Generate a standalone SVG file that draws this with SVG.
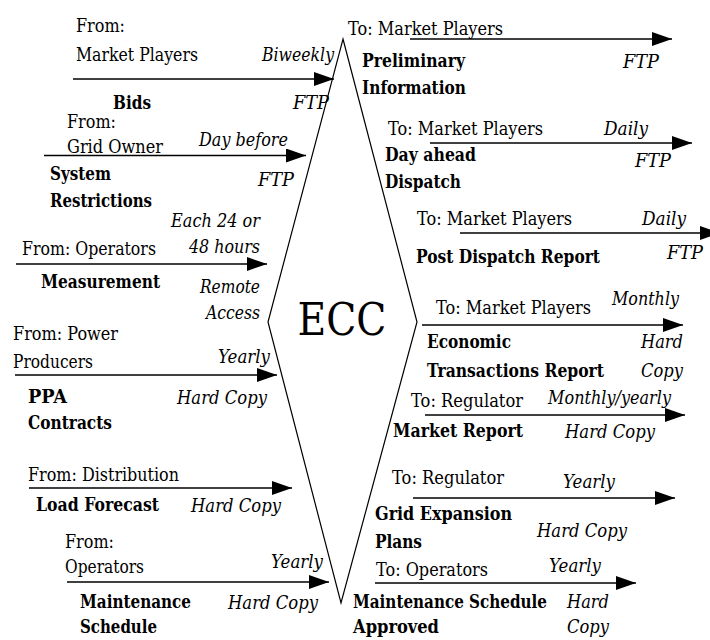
<svg xmlns="http://www.w3.org/2000/svg" width="710" height="640" viewBox="0 0 710 640">
<style>
text{font-family:"DejaVu Serif",serif;font-size:18px;fill:#000}
.b{font-weight:bold}
.i{font-style:italic}
.e{text-anchor:end}
.big{font-size:44px;text-anchor:middle}
.ln{stroke:#000;stroke-width:1.4;fill:none;marker-end:url(#ah)}
</style>
<defs>
<marker id="ah" markerUnits="userSpaceOnUse" markerWidth="21" markerHeight="15" refX="20" refY="7" orient="auto" viewBox="0 0 21 15">
<path d="M0,0 L20,7 L0,14 z" fill="#000"/>
</marker>
</defs>
<rect width="710" height="640" fill="#fff"/>
<g id="ecc">
<polygon points="343,39 417,322 341,603 268,322" fill="none" stroke="#000" stroke-width="1.2"/>
<text class="big" x="342" y="335" textLength="89" lengthAdjust="spacingAndGlyphs">ECC</text>
</g>
<g id="connectors">
<line class="ln" x1="73" y1="79" x2="334" y2="79"/>
<line class="ln" x1="44" y1="155.5" x2="306" y2="155.5"/>
<line class="ln" x1="16" y1="264" x2="267" y2="264"/>
<line class="ln" x1="15" y1="375" x2="277" y2="375"/>
<line class="ln" x1="29" y1="488" x2="292" y2="488"/>
<line class="ln" x1="67" y1="582" x2="329" y2="582"/>
<line class="ln" x1="410" y1="39" x2="672" y2="39"/>
<line class="ln" x1="430" y1="143" x2="692" y2="143"/>
<line class="ln" x1="460" y1="233" x2="720" y2="233"/>
<line class="ln" x1="422" y1="325" x2="683" y2="325"/>
<line class="ln" x1="425" y1="415" x2="685" y2="415"/>
<line class="ln" x1="413" y1="498" x2="675" y2="498"/>
<line class="ln" x1="375" y1="583" x2="636" y2="583"/>
</g>
<g id="bids">
<text x="76" y="32" textLength="49" lengthAdjust="spacingAndGlyphs">From:</text>
<text x="76" y="61" textLength="122" lengthAdjust="spacingAndGlyphs">Market Players</text>
<text class="i e" x="334" y="61" textLength="72" lengthAdjust="spacingAndGlyphs">Biweekly</text>
<text class="b" x="113" y="109" textLength="38" lengthAdjust="spacingAndGlyphs">Bids</text>
<text class="i" x="293" y="109" textLength="36" lengthAdjust="spacingAndGlyphs">FTP</text>
</g>
<g id="system-restrictions">
<text x="67" y="128" textLength="49" lengthAdjust="spacingAndGlyphs">From:</text>
<text x="67" y="153" textLength="96" lengthAdjust="spacingAndGlyphs">Grid Owner</text>
<text class="i" x="199" y="146" textLength="89" lengthAdjust="spacingAndGlyphs">Day before</text>
<text class="b" x="50" y="180" textLength="61" lengthAdjust="spacingAndGlyphs">System</text>
<text class="b" x="50" y="207" textLength="102" lengthAdjust="spacingAndGlyphs">Restrictions</text>
<text class="i" x="258" y="186" textLength="36" lengthAdjust="spacingAndGlyphs">FTP</text>
</g>
<g id="measurement">
<text class="i e" x="260" y="227" textLength="89" lengthAdjust="spacingAndGlyphs">Each 24 or</text>
<text class="i e" x="260" y="253" textLength="71" lengthAdjust="spacingAndGlyphs">48 hours</text>
<text x="22" y="255" textLength="134" lengthAdjust="spacingAndGlyphs">From: Operators</text>
<text class="b" x="41" y="288" textLength="119" lengthAdjust="spacingAndGlyphs">Measurement</text>
<text class="i e" x="260" y="293" textLength="60" lengthAdjust="spacingAndGlyphs">Remote</text>
<text class="i e" x="260" y="319" textLength="54" lengthAdjust="spacingAndGlyphs">Access</text>
</g>
<g id="ppa-contracts">
<text x="13" y="340" textLength="105" lengthAdjust="spacingAndGlyphs">From: Power</text>
<text x="13" y="368" textLength="80" lengthAdjust="spacingAndGlyphs">Producers</text>
<text class="i e" x="270" y="363" textLength="52" lengthAdjust="spacingAndGlyphs">Yearly</text>
<text class="b" x="28" y="403" textLength="39" lengthAdjust="spacingAndGlyphs">PPA</text>
<text class="b" x="28" y="429" textLength="84" lengthAdjust="spacingAndGlyphs">Contracts</text>
<text class="i" x="177" y="404" textLength="90" lengthAdjust="spacingAndGlyphs">Hard Copy</text>
</g>
<g id="load-forecast">
<text x="28" y="481" textLength="151" lengthAdjust="spacingAndGlyphs">From: Distribution</text>
<text class="b" x="36" y="511" textLength="123" lengthAdjust="spacingAndGlyphs">Load Forecast</text>
<text class="i" x="191" y="512" textLength="90" lengthAdjust="spacingAndGlyphs">Hard Copy</text>
</g>
<g id="maintenance-schedule">
<text x="65" y="548" textLength="49" lengthAdjust="spacingAndGlyphs">From:</text>
<text x="65" y="573" textLength="79" lengthAdjust="spacingAndGlyphs">Operators</text>
<text class="i e" x="323" y="568" textLength="52" lengthAdjust="spacingAndGlyphs">Yearly</text>
<text class="b" x="80" y="608" textLength="111" lengthAdjust="spacingAndGlyphs">Maintenance</text>
<text class="b" x="80" y="633" textLength="77" lengthAdjust="spacingAndGlyphs">Schedule</text>
<text class="i" x="228" y="609" textLength="90" lengthAdjust="spacingAndGlyphs">Hard Copy</text>
</g>
<g id="preliminary-information">
<text x="348" y="35" textLength="155" lengthAdjust="spacingAndGlyphs">To: Market Players</text>
<text class="b" x="362" y="67" textLength="103" lengthAdjust="spacingAndGlyphs">Preliminary</text>
<text class="b" x="362" y="94" textLength="104" lengthAdjust="spacingAndGlyphs">Information</text>
<text class="i" x="623" y="68" textLength="36" lengthAdjust="spacingAndGlyphs">FTP</text>
</g>
<g id="day-ahead-dispatch">
<text x="388" y="135" textLength="155" lengthAdjust="spacingAndGlyphs">To: Market Players</text>
<text class="i" x="604" y="135" textLength="44" lengthAdjust="spacingAndGlyphs">Daily</text>
<text class="b" x="385" y="161" textLength="91" lengthAdjust="spacingAndGlyphs">Day ahead</text>
<text class="b" x="385" y="188" textLength="76" lengthAdjust="spacingAndGlyphs">Dispatch</text>
<text class="i" x="635" y="167" textLength="36" lengthAdjust="spacingAndGlyphs">FTP</text>
</g>
<g id="post-dispatch-report">
<text x="417" y="225" textLength="155" lengthAdjust="spacingAndGlyphs">To: Market Players</text>
<text class="i" x="642" y="225" textLength="44" lengthAdjust="spacingAndGlyphs">Daily</text>
<text class="b" x="416" y="263" textLength="184" lengthAdjust="spacingAndGlyphs">Post Dispatch Report</text>
<text class="i" x="667" y="259" textLength="36" lengthAdjust="spacingAndGlyphs">FTP</text>
</g>
<g id="economic-transactions-report">
<text x="436" y="314" textLength="155" lengthAdjust="spacingAndGlyphs">To: Market Players</text>
<text class="i" x="612" y="305" textLength="67" lengthAdjust="spacingAndGlyphs">Monthly</text>
<text class="b" x="427" y="348" textLength="84" lengthAdjust="spacingAndGlyphs">Economic</text>
<text class="b" x="427" y="377" textLength="177" lengthAdjust="spacingAndGlyphs">Transactions Report</text>
<text class="i e" x="683" y="348" textLength="42" lengthAdjust="spacingAndGlyphs">Hard</text>
<text class="i e" x="683" y="377" textLength="42" lengthAdjust="spacingAndGlyphs">Copy</text>
</g>
<g id="market-report">
<text x="411" y="407" textLength="112" lengthAdjust="spacingAndGlyphs">To: Regulator</text>
<text class="i" x="548" y="404" textLength="123" lengthAdjust="spacingAndGlyphs">Monthly/yearly</text>
<text class="b" x="393" y="437" textLength="130" lengthAdjust="spacingAndGlyphs">Market Report</text>
<text class="i" x="565" y="438" textLength="90" lengthAdjust="spacingAndGlyphs">Hard Copy</text>
</g>
<g id="grid-expansion-plans">
<text x="392" y="484" textLength="112" lengthAdjust="spacingAndGlyphs">To: Regulator</text>
<text class="i" x="563" y="488" textLength="52" lengthAdjust="spacingAndGlyphs">Yearly</text>
<text class="b" x="375" y="520" textLength="137" lengthAdjust="spacingAndGlyphs">Grid Expansion</text>
<text class="b" x="375" y="548" textLength="47" lengthAdjust="spacingAndGlyphs">Plans</text>
<text class="i" x="537" y="537" textLength="90" lengthAdjust="spacingAndGlyphs">Hard Copy</text>
</g>
<g id="maintenance-schedule-approved">
<text x="376" y="576" textLength="112" lengthAdjust="spacingAndGlyphs">To: Operators</text>
<text class="i" x="549" y="572" textLength="52" lengthAdjust="spacingAndGlyphs">Yearly</text>
<text class="b" x="353" y="608" textLength="194" lengthAdjust="spacingAndGlyphs">Maintenance Schedule</text>
<text class="b" x="353" y="633" textLength="86" lengthAdjust="spacingAndGlyphs">Approved</text>
<text class="i" x="567" y="608" textLength="42" lengthAdjust="spacingAndGlyphs">Hard</text>
<text class="i" x="567" y="633" textLength="42" lengthAdjust="spacingAndGlyphs">Copy</text>
</g>
</svg>
